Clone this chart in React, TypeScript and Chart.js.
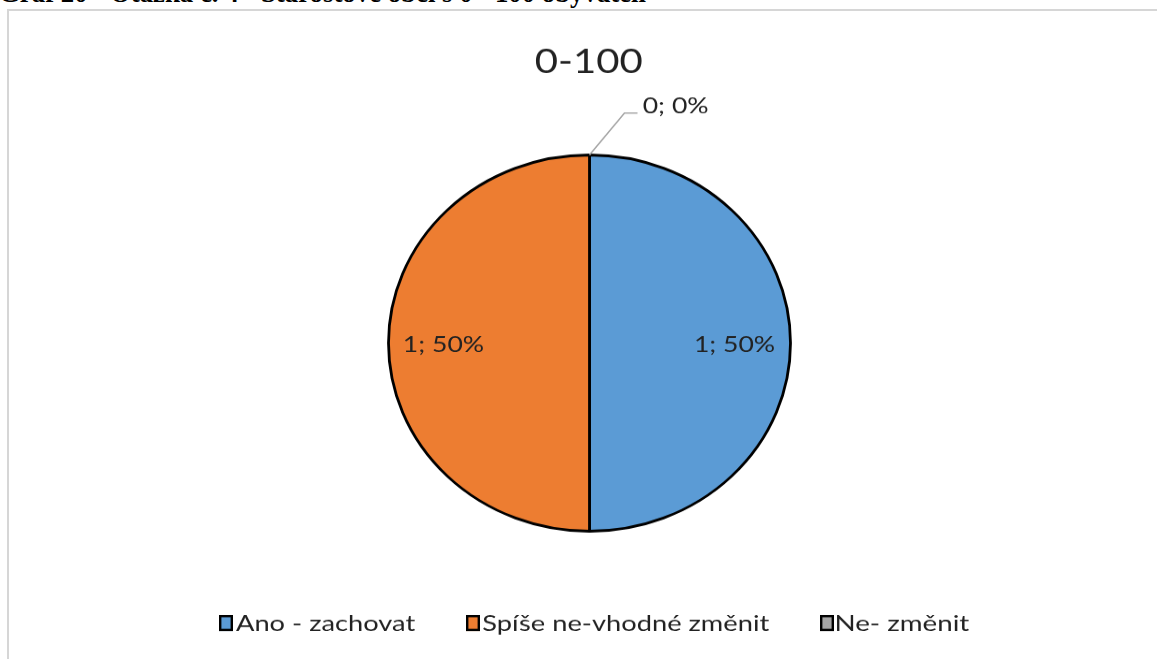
import React, { useEffect, useRef } from "react";
import { Chart, registerables } from "chart.js";

Chart.register(...registerables);

// ---------- data ----------
const categories = ["Ano - zachovat", "Spíše ne-vhodné změnit", "Ne- změnit"];
const counts = [1, 1, 0];
const chartTitle = "0-100";
const caption = "Graf 20 - Otázka č. 4 - Starostové obcí s 0 - 100 obyvateli";
const sliceColors = ["#5B9BD5", "#ED7D31", "#A5A5A5"];

// ---------- layout / style ----------
const W = 1157;
const H = 659;
const BH = 704; // bitmap height; canvas is shown squashed vertically (reference pie is an ellipse)
const K = H / BH;
const by = (y: number) => y / K;
const FONT = "Lato, 'Open Sans', sans-serif";
const TEXT_COLOR = "#222222";

function fitText(
  ctx: CanvasRenderingContext2D,
  text: string,
  x: number,
  baseCss: number,
  w: number,
  hCss: number,
  align: "left" | "center",
  color: string,
  ref = "0"
) {
  ctx.save();
  ctx.font = `100px ${FONT}`;
  const m = ctx.measureText(text);
  const r = ctx.measureText(ref);
  const inkW = m.actualBoundingBoxLeft + m.actualBoundingBoxRight;
  const inkH = r.actualBoundingBoxAscent;
  const sx = w / inkW;
  const sy = by(hCss) / inkH;
  ctx.translate(x, by(baseCss));
  ctx.scale(sx, sy);
  ctx.fillStyle = color;
  ctx.textAlign = "left";
  ctx.textBaseline = "alphabetic";
  const off = align === "center" ? m.actualBoundingBoxLeft - inkW / 2 : m.actualBoundingBoxLeft;
  ctx.fillText(text, off, 0);
  ctx.restore();
}

const excelPlugin = {
  id: "excelLook",
  afterDatasetsDraw(chart: any) {
    const ctx: CanvasRenderingContext2D = chart.ctx;
    const values: number[] = chart.data.datasets[0].data;
    const total = values.reduce((a, b) => a + b, 0);
    const meta = chart.getDatasetMeta(0);

    // title
    fitText(ctx, chartTitle, 536, 73.3, 105.5, 25, "left", TEXT_COLOR);

    // data labels
    meta.data.forEach((arc: any, i: number) => {
      const p = arc.getProps(["x", "y", "startAngle", "endAngle", "outerRadius"], true);
      const v = values[i];
      const pct = total ? Math.round((v / total) * 100) : 0;
      const text = `${v}; ${pct}%`;
      if (v === 0) {
        const px = p.x + Math.cos(p.startAngle) * p.outerRadius;
        const py = p.y + Math.sin(p.startAngle) * p.outerRadius;
        ctx.save();
        ctx.strokeStyle = "#A6A6A6";
        ctx.lineWidth = 1.5;
        ctx.beginPath();
        ctx.moveTo(px, py);
        ctx.lineTo(px + 35, by(113));
        ctx.lineTo(px + 48, by(113));
        ctx.stroke();
        ctx.restore();
        fitText(ctx, text, px + 54, 113.3, 64, 16, "left", TEXT_COLOR);
      } else {
        const mid = (p.startAngle + p.endAngle) / 2;
        const lx = p.x + Math.cos(mid) * p.outerRadius * 0.724;
        const ly = p.y + Math.sin(mid) * p.outerRadius * 0.724;
        fitText(ctx, text, lx, ly * K + 9, 78, 16.5, "center", TEXT_COLOR);
      }
    });

    // legend
    const legendTextW = [179, 286, 132];
    const sq = 14;
    const sqH = 16;
    const sqTop = 615;
    let x = 219;
    categories.forEach((c, i) => {
      ctx.save();
      ctx.fillStyle = sliceColors[i];
      ctx.fillRect(x, by(sqTop), sq, by(sqH));
      ctx.strokeStyle = "#000";
      ctx.lineWidth = 2.4;
      ctx.strokeRect(x + 1.2, by(sqTop) + 1.2, sq - 2.4, by(sqH) - 2.4);
      ctx.restore();
      fitText(ctx, c, x + sq + 3, 631, legendTextW[i], 15.5, "left", TEXT_COLOR, "A");
      x += sq + 3 + legendTextW[i] + 51;
    });
  },
};

export default function App() {
  const ref = useRef<HTMLCanvasElement | null>(null);

  useEffect(() => {
    if (!ref.current) return;
    const chart = new Chart(ref.current, {
      type: "pie",
      data: {
        labels: categories,
        datasets: [
          {
            data: counts,
            backgroundColor: sliceColors,
            borderColor: "#000000",
            borderWidth: 2.8,
          },
        ],
      },
      options: {
        responsive: false,
        animation: false,
        events: [],
        radius: 201,
        layout: { padding: { left: 22, top: 29, right: 0, bottom: 0 } },
        plugins: {
          legend: { display: false },
          title: { display: false },
          tooltip: { enabled: false },
        },
      } as any,
      plugins: [excelPlugin],
    });
    return () => chart.destroy();
  }, []);

  return (
    <div style={{ position: "absolute", left: 0, top: 0, width: W, height: H, overflow: "hidden", background: "#fff" }}>
      <span
        style={{
          position: "absolute",
          left: -1,
          top: -20,
          fontFamily: "'Liberation Serif', 'Times New Roman', serif",
          fontWeight: "bold",
          fontSize: 26.8,
          lineHeight: "27px",
          whiteSpace: "nowrap",
          color: "#000",
        }}
      >
        {caption}
      </span>
      <div
        style={{
          position: "absolute",
          left: 7,
          top: 9,
          width: W + 20,
          height: H + 20,
          borderLeft: "2px solid #d6d6d6",
          borderTop: "2px solid #d6d6d6",
        }}
      />
      <canvas
        ref={ref}
        width={W}
        height={BH}
        style={{ position: "absolute", left: 0, top: 0, width: W, height: H, display: "block" }}
      />
    </div>
  );
}
